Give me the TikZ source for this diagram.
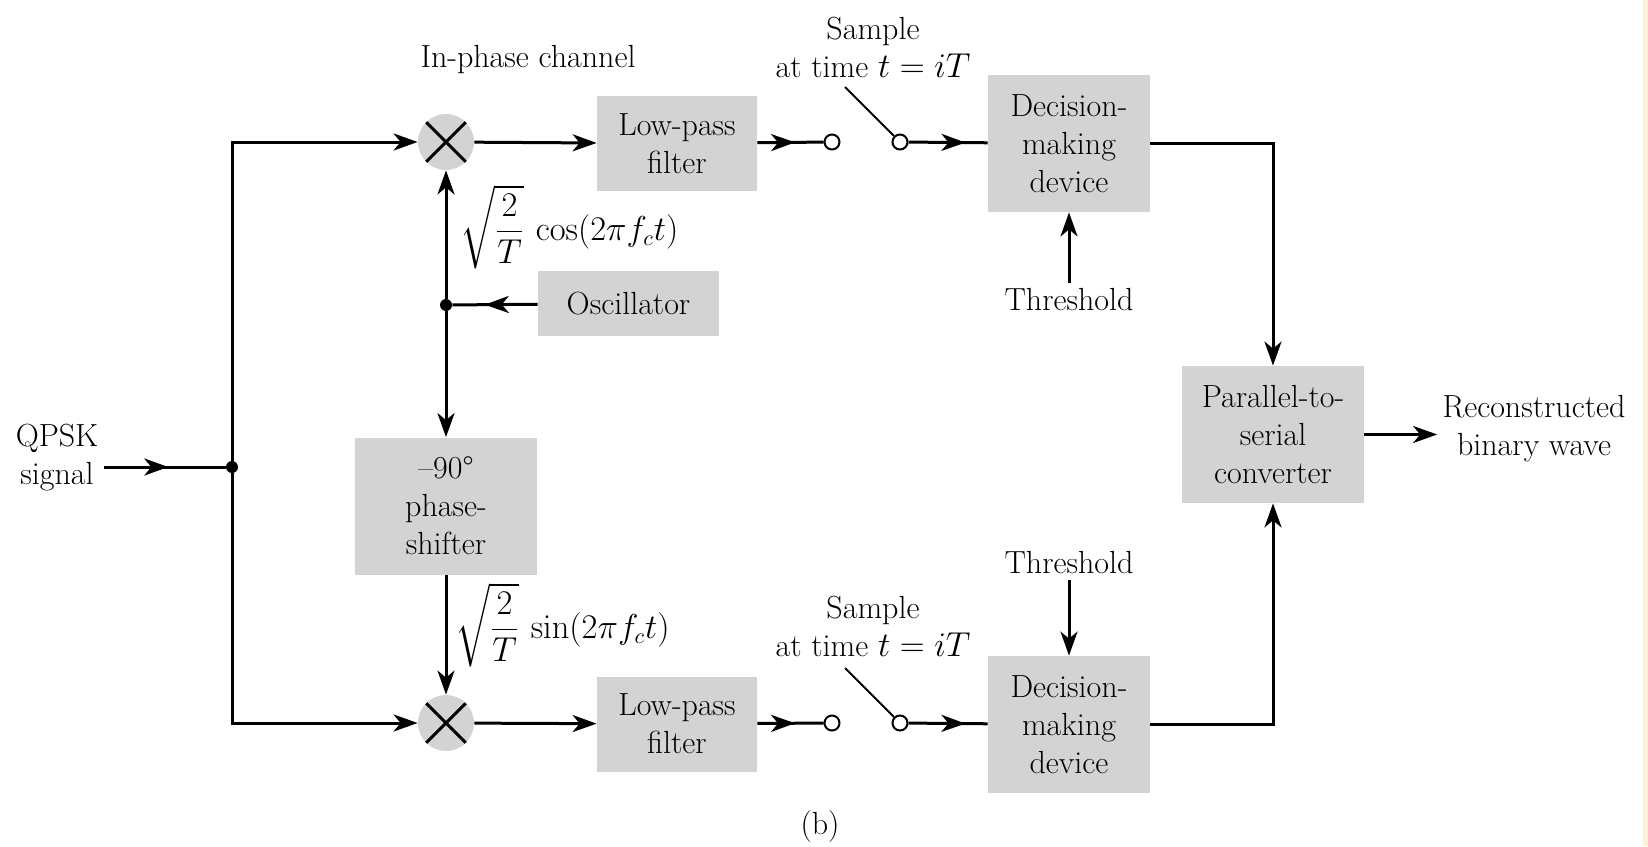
\documentclass[tikz,border=0pt]{standalone}
\usepackage{amsmath}
\usetikzlibrary{arrows.meta,decorations.markings}

\definecolor{blockgray}{RGB}{211,211,211}
\definecolor{edgecream}{RGB}{252,241,214}

\tikzset{
  >={Stealth[length=12pt,width=8.5pt,inset=3.5pt]},
  line/.style={line width=1.5pt},
  block/.style={fill=blockgray,align=center,inner sep=0pt,minimum width=81pt,minimum height=68.5pt},
  mixer/.style={circle,fill=blockgray,minimum size=28pt,inner sep=0pt,
    path picture={\draw[line width=1.5pt] (path picture bounding box.north west) -- (path picture bounding box.south east)
      (path picture bounding box.north east) -- (path picture bounding box.south west);}},
  contact/.style={circle,draw,fill=white,line width=1pt,minimum size=7.5pt,inner sep=0pt},
  dot/.style={circle,fill=black,minimum size=6pt,inner sep=0pt},
  lbl/.style={align=center,inner sep=2.5pt},
  midarrow/.style={postaction={decorate},decoration={markings,mark=at position #1 with {\arrow{>}}}}
}

\begin{document}
\begin{tikzpicture}[x=0.5pt,y=-0.5pt,font=\fontsize{16}{19}\selectfont]
  \useasboundingbox (0,0) rectangle (1648,846);
  \fill[edgecream] (1643,0) rectangle (1648,846);

  % blocks
  \node[block,minimum width=80pt,minimum height=47.5pt] (lpfi) at (677,143.5) {Low-pass\\filter};
  \node[block,minimum width=80pt,minimum height=47.5pt] (lpfq) at (677,724) {Low-pass\\filter};
  \node[block] (deci) at (1069,143.5) {Decision-\\making\\device};
  \node[block] (decq) at (1069,724.5) {Decision-\\making\\device};
  \node[block,minimum width=90.5pt,minimum height=32.5pt] (osc) at (628.5,303.5) {Oscillator};
  \node[block,minimum width=91pt] (shift) at (446,506) {--90\textdegree\\phase-\\shifter};
  \node[block,minimum width=91pt] (ps) at (1273,434.5) {Parallel-to-\\serial\\converter};

  % multipliers, switches, junctions
  \node[mixer] (mixi) at (446,142) {};
  \node[mixer] (mixq) at (446,723) {};
  \node[contact] (swia) at (832,142) {};
  \node[contact] (swib) at (900,142) {};
  \node[contact] (swqa) at (832,723) {};
  \node[contact] (swqb) at (900,723) {};
  \coordinate (armi) at (845,87);
  \coordinate (armq) at (845,668);
  \node[dot] (split) at (232,467) {};
  \node[dot] (tap) at (446,305) {};

  % labels
  \node[lbl] (qpsk) at (57,458) {QPSK\\signal};
  \node[lbl] (inph) at (528,60) {In-phase channel};
  \node[lbl] (smpi) at (873,47.5) {Sample\\at time $t = iT$};
  \node[lbl] (smpq) at (873,626.5) {Sample\\at time $t = iT$};
  \node[lbl] (thri) at (1069,300) {Threshold};
  \node[lbl] (thrq) at (1069,563) {Threshold};
  \node[lbl] (out) at (1534,428.5) {Reconstructed\\binary wave};
  \node[lbl] (cap) at (820,827) {(b)};
  \node[lbl,inner sep=0pt,anchor=west] (cosl) at (460,227) {$\sqrt{\dfrac{2}{T}}\,\cos(2\pi f_c t)$};
  \node[lbl,inner sep=0pt,anchor=west] (sinl) at (455,625) {$\sqrt{\dfrac{2}{T}}\,\sin(2\pi f_c t)$};

  % connectors
  \draw[line,midarrow=0.53] (qpsk.east |- split) -- (split);
  \draw[line,->] (split) |- (mixi);
  \draw[line,->] (split) |- (mixq);
  \draw[line,->] (mixi) -- (lpfi);
  \draw[line,->] (mixq) -- (lpfq);
  \draw[line,midarrow=0.57] (lpfi) -- (swia);
  \draw[line,midarrow=0.57] (lpfq) -- (swqa);
  \draw[line,midarrow=0.72] (swib) -- (deci);
  \draw[line,midarrow=0.72] (swqb) -- (decq);
  \draw[line width=1pt] (armi) -- (swib.135);
  \draw[line width=1pt] (armq) -- (swqb.135);
  \draw[line,->] (thri) -- (deci);
  \draw[line,->] (thrq) -- (decq);
  \draw[line,->] (deci) -| (ps);
  \draw[line,->] (decq) -| (ps);
  \draw[line,->] (ps) -- (ps.east -| out.west);
  \draw[line,midarrow=0.62] (osc) -- (tap);
  \draw[line,->] (tap) -- (mixi);
  \draw[line,->] (tap) -- (shift);
  \draw[line,->] (shift) -- (mixq);
\end{tikzpicture}
\end{document}
